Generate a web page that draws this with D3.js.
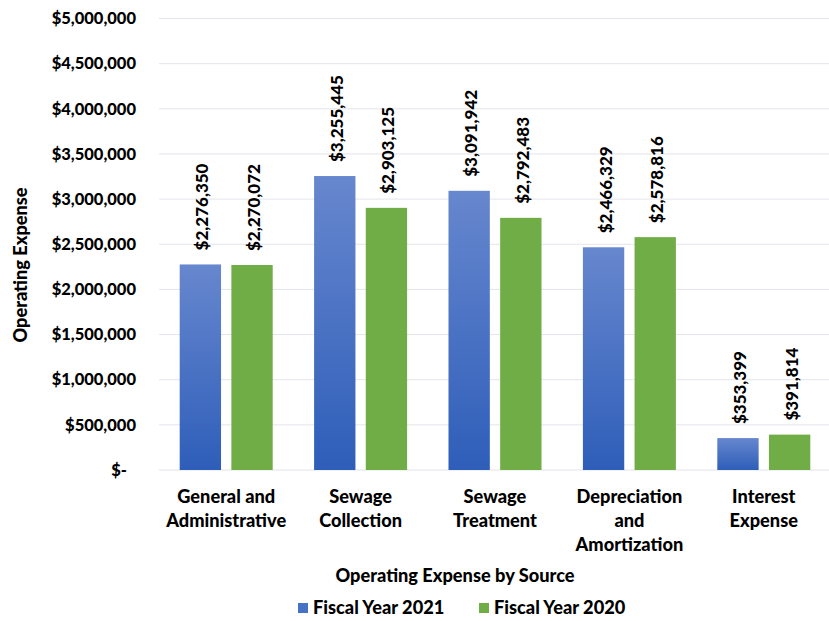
<!DOCTYPE html>
<html>
<head>
<meta charset="utf-8">
<script src="https://cdn.jsdelivr.net/npm/d3@7"></script>
<style>
  html, body { margin: 0; padding: 0; background: #fff; }
  svg text { font-family: Lato, "Open Sans", sans-serif; font-weight: 900; fill: #000; }
</style>
</head>
<body>
<svg id="chart" width="829" height="621"></svg>
<script>
// Operating expense by source, two fiscal years
const categories = [
  ["General and", "Administrative"],
  ["Sewage", "Collection"],
  ["Sewage", "Treatment"],
  ["Depreciation", "and", "Amortization"],
  ["Interest", "Expense"]
];
const seriesNames = ["Fiscal Year 2021", "Fiscal Year 2020"];
const fy2021 = [2276350, 3255445, 3091942, 2466329, 353399];
const fy2020 = [2270072, 2903125, 2792483, 2578816, 391814];
const yTicks = [0, 500000, 1000000, 1500000, 2000000, 2500000, 3000000, 3500000, 4000000, 4500000, 5000000];

const svg = d3.select("#chart");
const plot = { left: 159, right: 831, top: 18.5, bottom: 470 };
const labelSize = "18.2px";

const x0 = d3.scaleBand()
  .domain(d3.range(categories.length))
  .range([plot.left, plot.right])
  .paddingInner(0).paddingOuter(0);
const x1 = d3.scaleBand()
  .domain([0, 1])
  .range([20.7, x0.bandwidth() - 20.7])
  .paddingInner(0.2);
const y = d3.scaleLinear().domain([0, 5000000]).range([plot.bottom, plot.top]);

// blue fill fades lighter toward the top
const defs = svg.append("defs");
const grad = defs.append("linearGradient")
  .attr("id", "blueGrad").attr("x1", 0).attr("y1", 0).attr("x2", 0).attr("y2", 1);
grad.append("stop").attr("offset", "0%").attr("stop-color", "#6787CE");
grad.append("stop").attr("offset", "100%").attr("stop-color", "#2E5EB9");

const colors = ["url(#blueGrad)", "#70AD47"];
const legendColors = ["#4472C4", "#70AD47"];

// gridlines
svg.append("g")
  .selectAll("line").data(yTicks).join("line")
  .attr("x1", plot.left).attr("x2", 829)
  .attr("y1", d => y(d)).attr("y2", d => y(d))
  .attr("stroke", "#E4E4EC").attr("stroke-width", 1);

// y axis labels
const fmt = d3.format(",");
const yAxis = svg.append("g")
  .attr("transform", `translate(${plot.left - 23},0)`)
  .call(d3.axisLeft(y).tickValues(yTicks).tickSize(0).tickPadding(0)
    .tickFormat(d => d === 0 ? "$-" : "$" + fmt(d)));
yAxis.select(".domain").remove();
yAxis.selectAll("text")
  .attr("font-size", "16.5px")
  .attr("font-family", "Lato, sans-serif")
  .attr("font-weight", 900)
  .attr("fill", "#000")
  .attr("dx", d => d === 0 ? -9 : 0);

// bars and value labels
const data = categories.map((c, i) => ({ i, values: [fy2021[i], fy2020[i]] }));
const groups = svg.append("g").selectAll("g").data(data).join("g")
  .attr("transform", d => `translate(${x0(d.i)},0)`);

groups.selectAll("rect").data(d => d.values.map((v, s) => ({ v, s }))).join("rect")
  .attr("x", d => x1(d.s))
  .attr("width", x1.bandwidth())
  .attr("y", d => y(d.v))
  .attr("height", d => y(0) - y(d.v))
  .attr("fill", d => colors[d.s]);

groups.selectAll("text.val").data(d => d.values.map((v, s) => ({ v, s }))).join("text")
  .attr("class", "val")
  .attr("transform", d => `translate(${x1(d.s) + x1.bandwidth() / 2 + 8},${y(d.v) - 14}) rotate(-90)`)
  .attr("font-size", "17px")
  .attr("text-anchor", "start")
  .text(d => "$" + fmt(d.v));

// category labels
const catG = svg.append("g");
categories.forEach((lines, i) => {
  const t = catG.append("text")
    .attr("x", x0(i) + x0.bandwidth() / 2)
    .attr("y", 503)
    .attr("text-anchor", "middle")
    .attr("font-size", labelSize);
  lines.forEach((ln, k) => {
    t.append("tspan").attr("x", x0(i) + x0.bandwidth() / 2)
      .attr("dy", k === 0 ? 0 : 24).text(ln);
  });
});

// axis titles
svg.append("text")
  .attr("x", 455).attr("y", 582)
  .attr("text-anchor", "middle").attr("font-size", labelSize)
  .text("Operating Expense by Source");
svg.append("text")
  .attr("transform", "translate(27,265) rotate(-90)")
  .attr("text-anchor", "middle").attr("font-size", labelSize)
  .text("Operating Expense");

// legend
const legendX = [298, 479];
const leg = svg.append("g");
seriesNames.forEach((name, s) => {
  leg.append("rect")
    .attr("x", legendX[s]).attr("y", 603)
    .attr("width", 10).attr("height", 10)
    .attr("fill", legendColors[s]);
  leg.append("text")
    .attr("x", legendX[s] + 15).attr("y", 614)
    .attr("font-size", labelSize)
    .text(name);
});
</script>
</body>
</html>
